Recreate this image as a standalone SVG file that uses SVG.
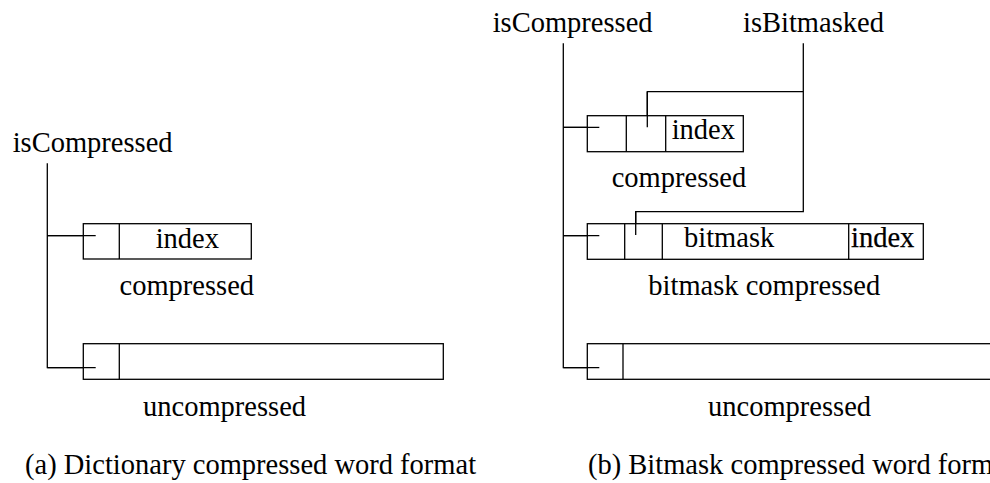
<svg xmlns="http://www.w3.org/2000/svg" width="990" height="483" viewBox="0 0 990 483">
<style>
text{font-family:"Liberation Serif","Times New Roman",serif;font-size:28.5px;fill:#000}
.dark{stroke:#000;stroke-width:0.25}
.b{fill:#fff;stroke:#000;stroke-width:1.3}
.l{fill:none;stroke:#000;stroke-width:1.3}
</style>
<rect width="990" height="483" fill="#fff"/>
<g id="connectors">
<path class="l" d="M47.3,163.3V367.7H95.7M47.3,235.7H95.7"/>
<path class="l" d="M563.3,43.3V367.7H599.3M563.3,127.3H599.3M563.3,235.7H599.3"/>
<path class="l" d="M803.3,43.3V211.7H635.7V235M803.3,91.7H647.3V127.3"/>
</g>
<g id="left-isCompressed"><text x="12.7" y="152">isCompressed</text></g>
<g id="left-compressed">
<rect class="b" x="83.3" y="223.7" width="168" height="35.3"/>
<path class="l" d="M119.3,223.7V259"/>
<path class="l" d="M47.3,235.7H95.7"/>
<text x="155.7" y="248.3">index</text>
<text x="119.5" y="295">compressed</text>
</g>
<g id="left-uncompressed">
<rect class="b" x="83.3" y="343.7" width="360" height="35.6"/>
<path class="l" d="M119.3,343.7V379.3"/>
<path class="l" d="M47.3,367.7H95.7"/>
<text x="143" y="416">uncompressed</text>
</g>
<g id="right-isCompressed"><text x="492.7" y="32">isCompressed</text></g>
<g id="right-isBitmasked"><text x="743" y="32">isBitmasked</text></g>
<g id="right-compressed">
<rect class="b" x="587.3" y="115.7" width="156" height="36"/>
<path class="l" d="M626.3,115.7V151.7M665.7,115.7V151.7"/>
<path class="l" d="M647.3,91.7V127.3M563.3,127.3H599.3"/>
<text x="671.7" y="139.3">index</text>
<text x="611.7" y="186.7">compressed</text>
</g>
<g id="right-bitmask">
<rect class="b" x="587.3" y="223.7" width="336" height="35.6"/>
<path class="l" d="M624.7,223.7V259.3M662.3,223.7V259.3M848.7,223.7V259.3"/>
<path class="l" d="M635.7,211.7V235M563.3,235.7H599.3"/>
<text x="684" y="247.3">bitmask</text>
<text class="dark" x="851" y="247.3">index</text>
<text x="648.3" y="295">bitmask compressed</text>
</g>
<g id="right-uncompressed">
<rect class="b" x="587.3" y="343.7" width="420" height="35.6"/>
<path class="l" d="M623,343.7V379.3M563.3,367.7H599.3"/>
<text x="708" y="416">uncompressed</text>
</g>
<g id="captions">
<text x="25" y="474">(a) Dictionary compressed word format</text>
<text x="588" y="474">(b) Bitmask compressed word format</text>
</g>
</svg>
